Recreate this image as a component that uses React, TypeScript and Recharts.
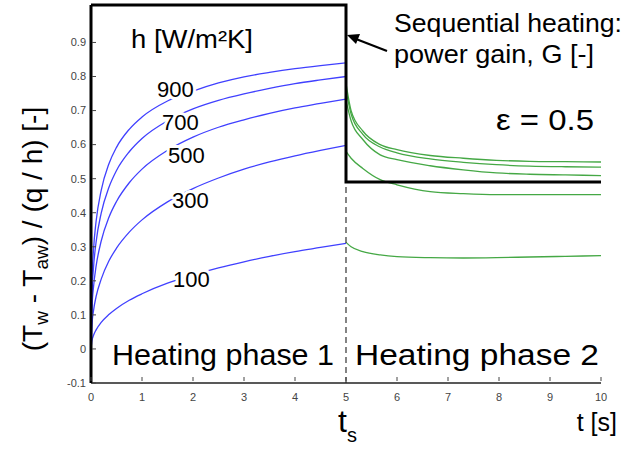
import React from "react";
import { LineChart, Line, XAxis, YAxis } from "recharts";

// Heating phase 1 (blue) – time [s]
const tBlue = [0, 0.02, 0.05, 0.1, 0.2, 0.35, 0.5, 0.75, 1, 1.5, 2, 2.5, 3, 3.5, 4, 4.5, 5];
const b100 = [0, 0.025, 0.04, 0.056, 0.078, 0.101, 0.119, 0.143, 0.162, 0.193, 0.217, 0.238, 0.256, 0.272, 0.286, 0.298, 0.31];
const b300 = [0, 0.072, 0.113, 0.154, 0.205, 0.258, 0.296, 0.343, 0.379, 0.432, 0.471, 0.502, 0.528, 0.549, 0.567, 0.583, 0.598];
const b500 = [0, 0.12, 0.183, 0.243, 0.317, 0.386, 0.433, 0.488, 0.528, 0.583, 0.622, 0.651, 0.673, 0.692, 0.708, 0.721, 0.734];
const b700 = [0, 0.16, 0.24, 0.314, 0.399, 0.474, 0.524, 0.579, 0.618, 0.67, 0.705, 0.73, 0.749, 0.765, 0.779, 0.79, 0.8];
const b900 = [0, 0.2, 0.293, 0.375, 0.466, 0.543, 0.592, 0.645, 0.681, 0.728, 0.757, 0.781, 0.799, 0.812, 0.823, 0.832, 0.84];

// Heating phase 2 (green)
const tGreen = [5, 5.1, 5.33, 5.67, 6, 6.65, 7.3, 7.95, 8.6, 9.3, 10];
const g900 = [0.78, 0.7, 0.64, 0.6, 0.585, 0.568, 0.56, 0.554, 0.551, 0.55, 0.549];
const g700 = [0.76, 0.69, 0.63, 0.593, 0.576, 0.558, 0.548, 0.541, 0.537, 0.535, 0.534];
const g500 = [0.73, 0.67, 0.615, 0.57, 0.556, 0.538, 0.526, 0.517, 0.513, 0.511, 0.509];
const g300 = [0.58, 0.56, 0.53, 0.497, 0.482, 0.462, 0.456, 0.453, 0.453, 0.453, 0.453];
const g100 = [0.313, 0.3, 0.286, 0.276, 0.271, 0.268, 0.267, 0.268, 0.27, 0.272, 0.274];

// Power gain G (step)
const gainT = [0, 5, 5, 10];
const gainV = [1.01, 1.01, 0.49, 0.49];

// switch line at t_s
const tsT = [5, 5];
const tsV = [-0.1, 0.49];

const xTicks = [0, 1, 2, 3, 4, 5, 6, 7, 8, 9, 10];
const yTicks = [-0.1, 0, 0.1, 0.2, 0.3, 0.4, 0.5, 0.6, 0.7, 0.8, 0.9];
const hLabels = ["900", "700", "500", "300", "100"];

const toPts = (ts: number[], vs: number[]) => ts.map((t, i) => ({ t, v: vs[i] }));

const BLUE = "#4040ff";
const GREEN = "#45a845";
const FONT = "'Liberation Sans', Arial, sans-serif";

const YTick = (props: any) => {
  const { x, y, payload } = props;
  const v = payload.value;
  const label = v === 0 ? "0" : String(Math.round(v * 10) / 10);
  return (
    <g>
      <line x1={x + 6} x2={x + 10} y1={y} y2={y} stroke="#444" strokeWidth={1} />
      <text x={x} y={y} dy="0.35em" textAnchor="end" fontSize={11} fill="#444" fontFamily={FONT}>
        {label}
      </text>
    </g>
  );
};

const XTick = (props: any) => {
  const { x, y, payload } = props;
  return (
    <g>
      <line x1={x} x2={x} y1={y - 4} y2={y - 8} stroke="#444" strokeWidth={1} />
      <text x={x} y={y + 16} textAnchor="middle" fontSize={11} fill="#444" fontFamily={FONT}>
        {payload.value}
      </text>
    </g>
  );
};

export default function App() {
  const blue = [b900, b700, b500, b300, b100];
  const green = [g900, g700, g500, g300, g100];
  const halo = { stroke: "#fff", strokeWidth: 6, paintOrder: "stroke" as any, strokeLinejoin: "round" as any };
  const labelPos = [
    [157, 97],
    [162, 130],
    [168, 163],
    [172, 208],
    [173, 287],
  ];
  const stretch = { lengthAdjust: "spacingAndGlyphs" as any };
  return (
    <div style={{ position: "absolute", left: 0, top: 0, width: 623, height: 452, background: "#fff" }}>
      <LineChart width={623} height={452} margin={{ top: 5, right: 22, bottom: 39, left: 0 }}>
        <XAxis
          dataKey="t"
          type="number"
          domain={[0, 10]}
          ticks={xTicks}
          interval={0}
          height={30}
          tickSize={0}
          tickLine={false}
          tick={<XTick />}
          axisLine={{ stroke: "#222", strokeWidth: 1.5 }}
        />
        <YAxis
          dataKey="v"
          type="number"
          domain={[-0.1, 1.01]}
          ticks={yTicks}
          interval={0}
          width={91}
          tickSize={0}
          tickMargin={5}
          tickLine={false}
          tick={<YTick />}
          axisLine={{ stroke: "#000", strokeWidth: 3 }}
        />
        {blue.map((vs, i) => (
          <Line
            key={"b" + i}
            data={toPts(tBlue, vs)}
            dataKey="v"
            type="monotone"
            stroke={BLUE}
            strokeWidth={1.3}
            dot={false}
            isAnimationActive={false}
          />
        ))}
        {green.map((vs, i) => (
          <Line
            key={"g" + i}
            data={toPts(tGreen, vs)}
            dataKey="v"
            type="monotone"
            stroke={GREEN}
            strokeWidth={1.3}
            dot={false}
            isAnimationActive={false}
          />
        ))}
        <Line
          data={toPts(tsT, tsV)}
          dataKey="v"
          type="linear"
          stroke="#333"
          strokeWidth={1.2}
          strokeDasharray="6 4"
          dot={false}
          isAnimationActive={false}
        />
        <Line
          data={toPts(gainT, gainV)}
          dataKey="v"
          type="linear"
          stroke="#000"
          strokeWidth={3}
          dot={false}
          isAnimationActive={false}
        />
      </LineChart>
      <svg
        width={623}
        height={452}
        style={{ position: "absolute", left: 0, top: 0, pointerEvents: "none" }}
        fontFamily={FONT}
      >
        <text x={131} y={48} fontSize={26} fill="#000" textLength={122} {...stretch}>
          h [W/m²K]
        </text>
        {hLabels.map((l, i) => (
          <text key={l} x={labelPos[i][0]} y={labelPos[i][1]} fontSize={22} fill="#000" {...halo}>
            {l}
          </text>
        ))}
        <text x={112} y={365} fontSize={29} fill="#000" textLength={222} {...stretch}>
          Heating phase 1
        </text>
        <text x={355} y={365} fontSize={29} fill="#000" textLength={244} {...stretch}>
          Heating phase 2
        </text>
        <text x={394} y={32} fontSize={25} fill="#000" textLength={228} {...stretch}>
          Sequential heating:
        </text>
        <text x={394} y={63} fontSize={25} fill="#000" textLength={200} {...stretch}>
          power gain, G [-]
        </text>
        <line x1={387} y1={51} x2={356} y2={39} stroke="#000" strokeWidth={2.2} />
        <polygon points="347,35 360,34 356,44" fill="#000" />
        <text x={496} y={130} fontSize={29} fill="#000" textLength={98} {...stretch}>
          ε = 0.5
        </text>
        <text x={338} y={432} fontSize={32} fill="#000">
          t
          <tspan fontSize={20} dy={10}>
            s
          </tspan>
        </text>
        <text x={617} y={431} fontSize={25} fill="#000" textAnchor="end">
          t [s]
        </text>
        <text transform="translate(42,229) rotate(-90)" textAnchor="middle" fontSize={28} fill="#000">
          (T<tspan fontSize={19} dy={6}>w</tspan>
          <tspan dy={-6}> - T</tspan>
          <tspan fontSize={19} dy={6}>aw</tspan>
          <tspan dy={-6}>) / (q / h) [-]</tspan>
        </text>
      </svg>
    </div>
  );
}
